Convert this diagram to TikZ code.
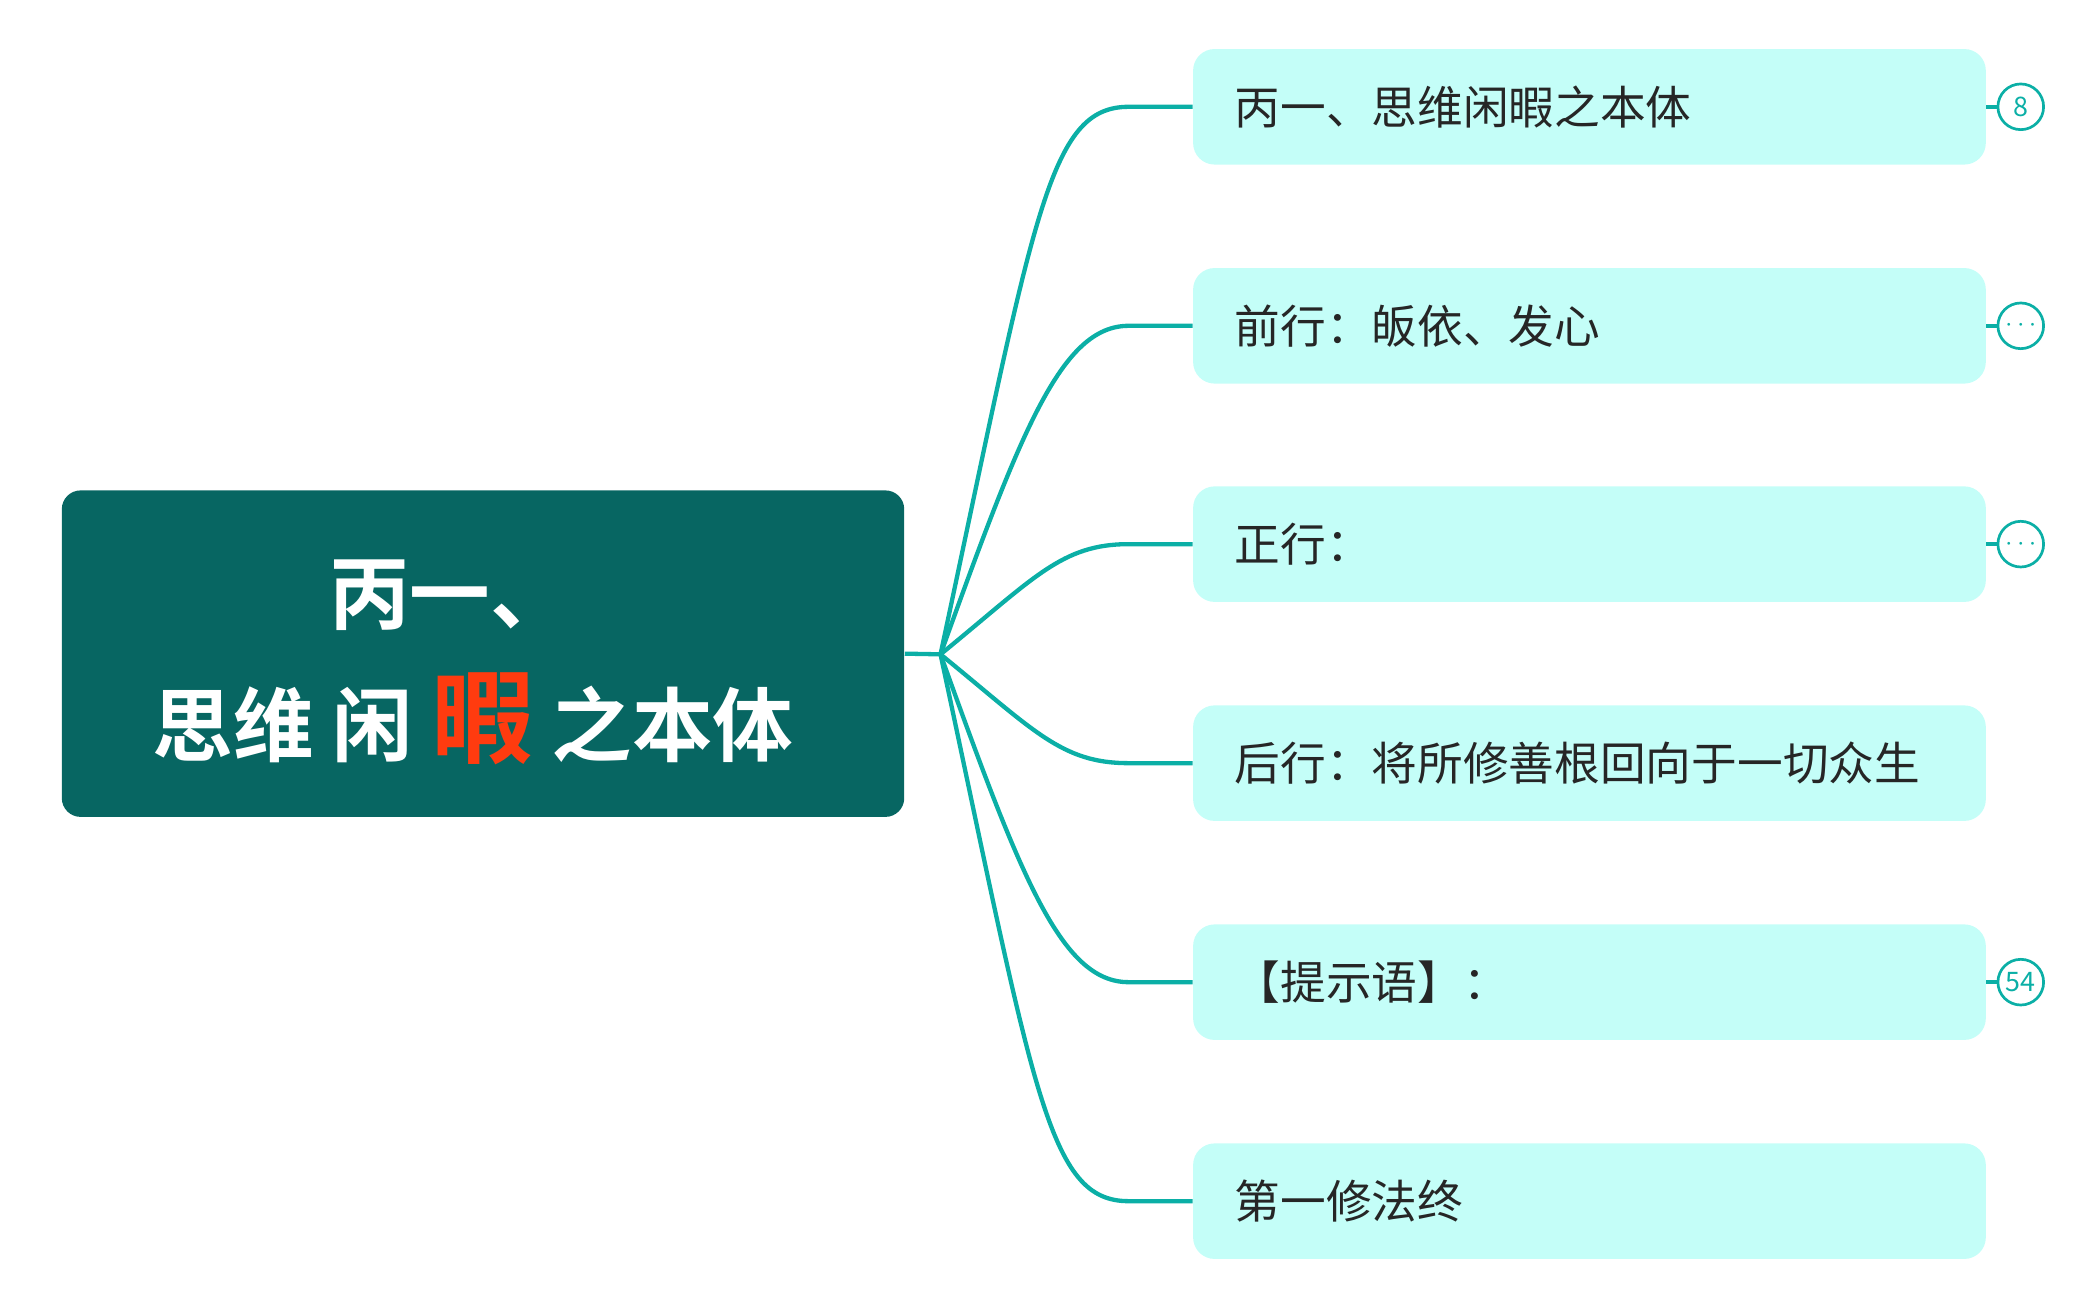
\documentclass[tikz,border=0pt]{standalone}
\usepackage{fontspec}
\newfontfamily\cjk{Noto Sans CJK SC}
\newfontfamily\cjkb{Noto Sans CJK SC Bold}
\definecolor{rootc}{HTML}{076662}
\definecolor{boxc}{HTML}{C4FEF8}
\definecolor{linec}{HTML}{0BAFA6}
\definecolor{redc}{HTML}{FF3B0F}
\begin{document}
\begin{tikzpicture}[x=0.5pt,y=-0.5pt,
  leaf/.style={fill=boxc,rounded corners=8pt,minimum width=295pt,minimum height=43pt,inner sep=0pt},
  ltxt/.style={anchor=west,font=\cjk\fontsize{17}{20}\selectfont,text=black!85},
  conn/.style={draw=linec,line width=1.6pt},
  badge/.style={circle,draw=linec,line width=1pt,minimum size=17pt,inner sep=0pt,font=\cjk\fontsize{10}{10}\selectfont,text=linec}]
\useasboundingbox (0,0) rectangle (1560,968);
\node[fill=rootc,rounded corners=7pt,minimum width=313.5pt,minimum height=121.5pt,inner sep=0pt] (root) at (359.5,486.5) {};
\node[font=\cjkb\fontsize{30}{34}\selectfont,text=white] (r1) at (335,443) {丙一、};
\node[font=\cjkb\fontsize{30}{34}\selectfont,text=white] (r2) at (352,535) {思维 闲 {\color{redc}\fontsize{38}{40}\selectfont 暇} 之本体};
\coordinate (hub) at (700,487);
\draw[conn] (root.east) -- (hub);
\foreach \i/\y/\t in {1/79.5/丙一、思维闲暇之本体,2/242.5/前行：皈依、发心,3/405/正行：,4/568/后行：将所修善根回向于一切众生,5/731/【提示语】：,6/894/第一修法终}{
  \node[leaf] (b\i) at (1183,\y) {};
  \node[ltxt] (t\i) at (912,\y) {\t};
  \coordinate (e\i) at (840,\y);
}
\draw[conn] (hub) .. controls (770,160) and (780,79.5) .. (e1) -- (b1.west);
\draw[conn] (hub) .. controls (760,320) and (790,242.5) .. (e2) -- (b2.west);
\draw[conn] (hub) .. controls (770,430) and (790,405) .. (e3) -- (b3.west);
\draw[conn] (hub) .. controls (770,544) and (790,568) .. (e4) -- (b4.west);
\draw[conn] (hub) .. controls (760,654) and (790,731) .. (e5) -- (b5.west);
\draw[conn] (hub) .. controls (770,814) and (780,894) .. (e6) -- (b6.west);
\node[badge] (c1) at (1504,79.5) {8};
\node[badge] (c2) at (1504,242.5) {$\cdots$};
\node[badge] (c3) at (1504,405) {$\cdots$};
\node[badge] (c5) at (1504,731) {54};
\foreach \i in {1,2,3,5}{\draw[conn] (b\i.east) -- (c\i.west);}
\end{tikzpicture}
\end{document}
